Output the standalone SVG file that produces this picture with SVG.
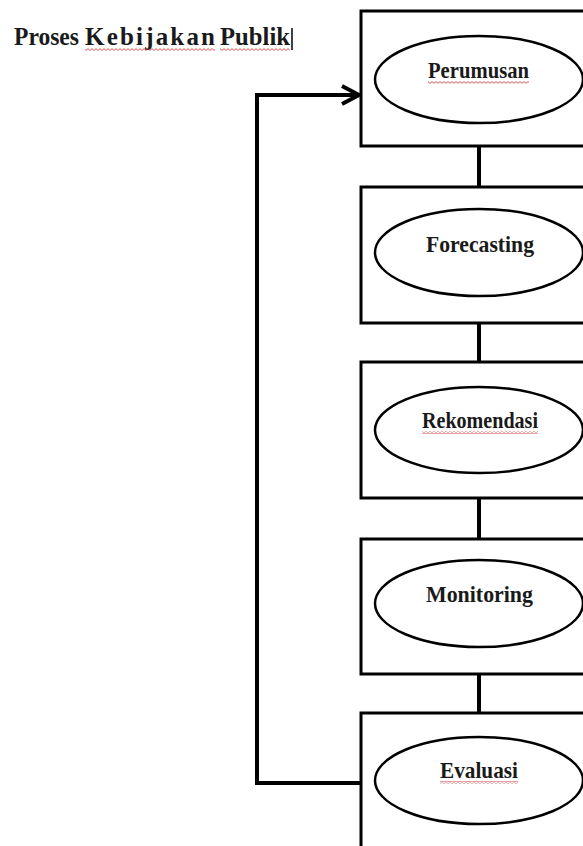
<svg xmlns="http://www.w3.org/2000/svg" width="583" height="846" viewBox="0 0 583 846">
<style>
.box{fill:#fff;stroke:#000;stroke-width:3}
.ell{fill:#fff;stroke:#000;stroke-width:2.5}
.lbl{font-family:"Liberation Serif","Times New Roman",serif;font-weight:bold;font-size:23px;fill:#1a1a1a;text-anchor:middle}
.title{font-family:"Liberation Serif","Times New Roman",serif;font-weight:bold;font-size:25px;fill:#1a1a1a}
.conn{fill:none;stroke:#000;stroke-width:4}
</style>
<defs>
<pattern id="wave" width="4" height="3" patternUnits="userSpaceOnUse">
<path d="M0 0.6 L2 2.4 L4 0.6" fill="none" stroke="#d04040" stroke-width="0.9"/>
</pattern>
</defs>
<rect width="583" height="846" fill="#fff"/>
<g id="title">
<text class="title" x="14" y="45" textLength="65" lengthAdjust="spacingAndGlyphs">Proses</text>
<text class="title" x="85" y="45" textLength="130" lengthAdjust="spacing">Kebijakan</text>
<text class="title" x="220" y="45" textLength="70" lengthAdjust="spacingAndGlyphs">Publik</text>
<rect x="85" y="48" width="130" height="3" fill="url(#wave)"/>
<rect x="220" y="48" width="70" height="3" fill="url(#wave)"/>
<line x1="292" y1="28" x2="292" y2="50" stroke="#000" stroke-width="1.5"/>
</g>
<g id="connectors">
<line class="conn" x1="479" y1="146" x2="479" y2="187"/>
<line class="conn" x1="479" y1="323" x2="479" y2="362"/>
<line class="conn" x1="479" y1="498" x2="479" y2="539"/>
<line class="conn" x1="479" y1="674" x2="479" y2="713"/>
<polyline class="conn" points="361,783 257,783 257,95 358,95" stroke-linejoin="miter"/>
<polyline class="conn" points="342,86 359,95 342,104" stroke-linejoin="miter"/>
</g>
<g id="node-perumusan">
<rect class="box" x="361" y="11" width="260" height="135"/>
<ellipse class="ell" cx="479" cy="79.5" rx="104" ry="43.5"/>
<text class="lbl" x="478.5" y="78" textLength="101" lengthAdjust="spacingAndGlyphs">Perumusan</text>
<rect x="428" y="81" width="101" height="3" fill="url(#wave)"/>
</g>
<g id="node-forecasting">
<rect class="box" x="361" y="187" width="260" height="136"/>
<ellipse class="ell" cx="479" cy="252.5" rx="104" ry="43.5"/>
<text class="lbl" x="480" y="252" textLength="108" lengthAdjust="spacingAndGlyphs">Forecasting</text>
</g>
<g id="node-rekomendasi">
<rect class="box" x="361" y="362" width="260" height="136"/>
<ellipse class="ell" cx="479" cy="430" rx="104" ry="43"/>
<text class="lbl" x="480" y="428" textLength="116" lengthAdjust="spacingAndGlyphs">Rekomendasi</text>
<rect x="422" y="431" width="116" height="3" fill="url(#wave)"/>
</g>
<g id="node-monitoring">
<rect class="box" x="361" y="539" width="260" height="135"/>
<ellipse class="ell" cx="479" cy="603.5" rx="104" ry="43.5"/>
<text class="lbl" x="479.5" y="602" textLength="107" lengthAdjust="spacingAndGlyphs">Monitoring</text>
</g>
<g id="node-evaluasi">
<rect class="box" x="361" y="713" width="260" height="180"/>
<ellipse class="ell" cx="479" cy="780.5" rx="104" ry="43.5"/>
<text class="lbl" x="479" y="778" textLength="78" lengthAdjust="spacingAndGlyphs">Evaluasi</text>
<rect x="440" y="781" width="78" height="3" fill="url(#wave)"/>
</g>
</svg>
